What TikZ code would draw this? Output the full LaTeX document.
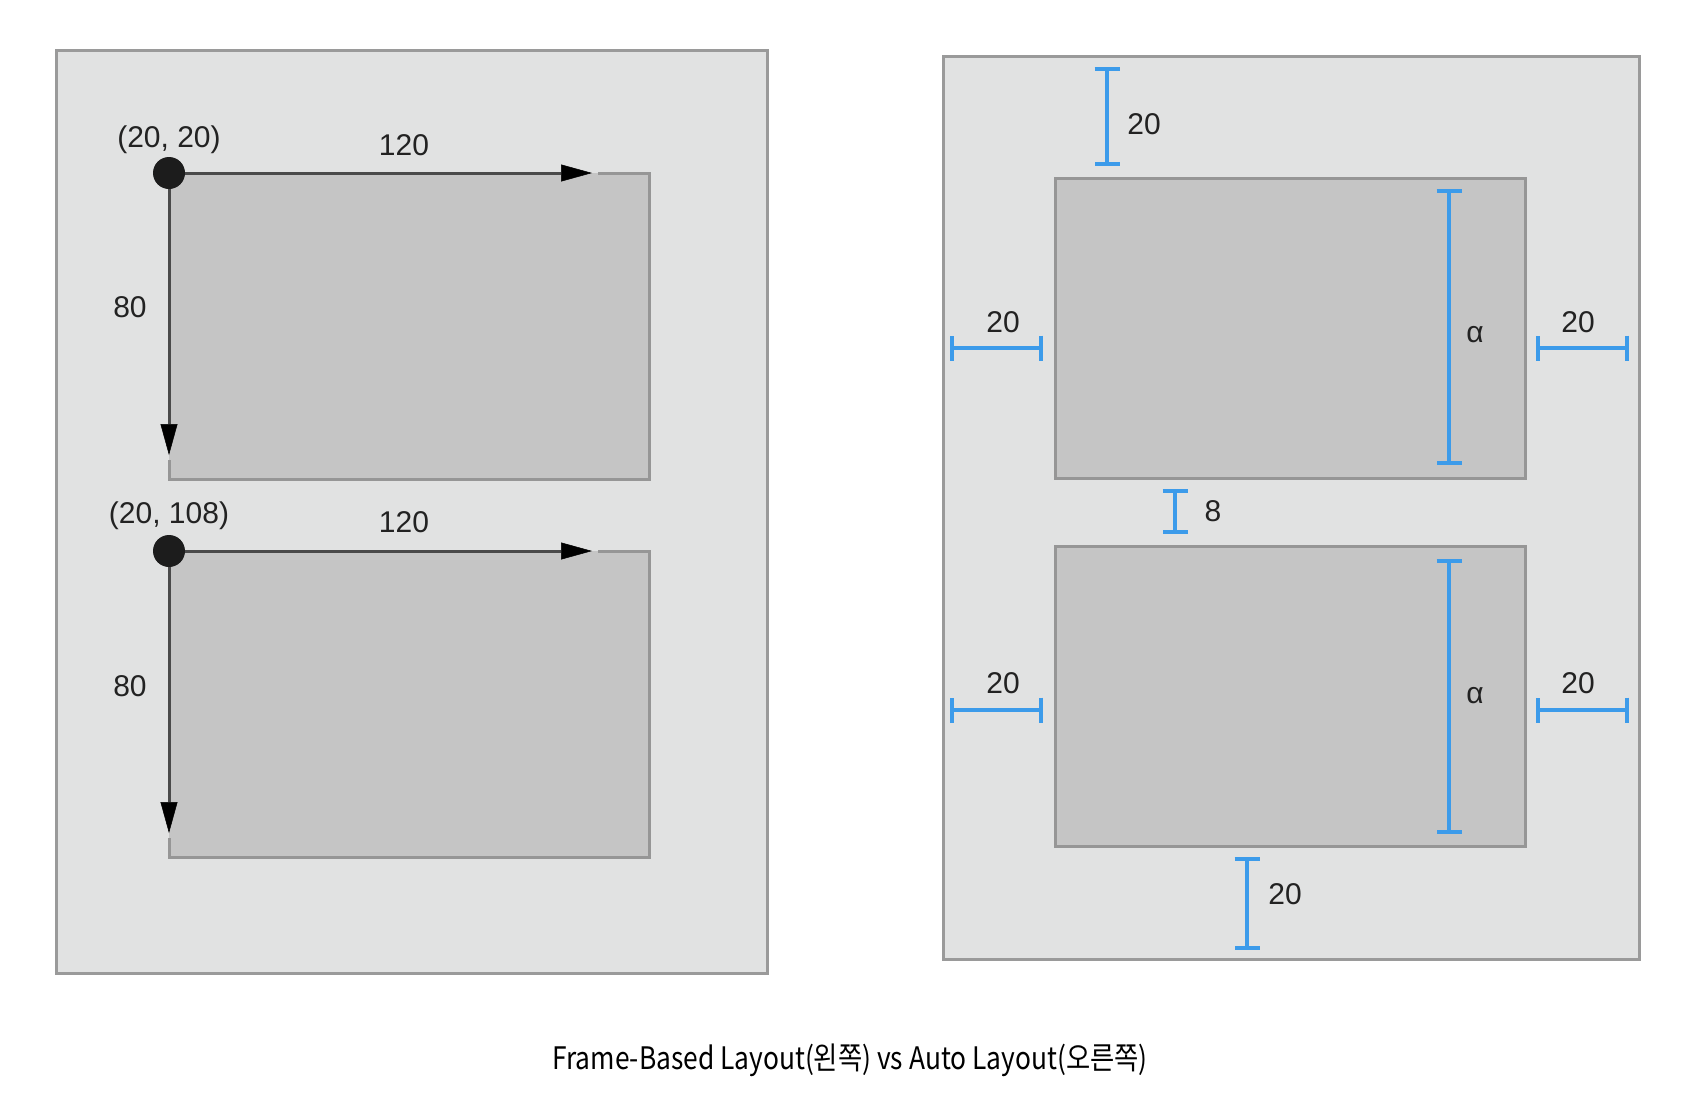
\documentclass[tikz,border=0pt]{standalone}
\usepackage{fontspec}
\setmainfont{Liberation Sans}
\newfontfamily\capfont[FakeStretch=0.85]{Noto Sans CJK KR}
\usetikzlibrary{arrows.meta,calc}
\definecolor{outerfill}{HTML}{E1E2E2}
\definecolor{outerline}{HTML}{9A9A9A}
\definecolor{innerfill}{HTML}{C5C5C5}
\definecolor{innerline}{HTML}{969696}
\definecolor{dimblue}{HTML}{3C9BEA}
\definecolor{arrowgray}{HTML}{4A4A4A}
\definecolor{dotblack}{HTML}{1C1C1C}
\definecolor{lbltext}{HTML}{222222}
\begin{document}
\begin{tikzpicture}[x=1pt,y=-1pt,
  outerbox/.style={fill=outerfill,draw=outerline,line width=3pt,inner sep=0pt,anchor=north west},
  innerfillbox/.style={fill=innerfill,inner sep=0pt,anchor=north west,minimum width=480pt,minimum height=306pt},
  innerbox/.style={fill=innerfill,draw=innerline,line width=3pt,inner sep=0pt,anchor=north west,minimum width=470pt,minimum height=300pt},
  edgeline/.style={draw=innerline,line width=3pt},
  lbl/.style={font=\fontsize{30}{36}\selectfont,text=lbltext,inner sep=0pt},
  framearrow/.style={draw=arrowgray,line width=3pt,-{Triangle[length=31pt,width=17pt,color=black,line width=0.5pt]}},
  dotnode/.style={circle,fill=dotblack,minimum size=32pt,inner sep=0pt},
  dimline/.style={draw=dimblue,line width=4pt,{Bar[width=25pt]}-{Bar[width=25pt]}},
  caption/.style={font=\capfont\fontsize{31}{38}\selectfont,text=black,inner sep=0pt}
]
\useasboundingbox (0,0) rectangle (1686,1114);

% ---------- Left panel: frame-based ----------
\node[outerbox,minimum width=711pt,minimum height=923pt] (lout) at (55,49) {};

\node[innerfillbox] (lr1) at (169,173) {};
\node[innerfillbox] (lr2) at (169,551) {};

\coordinate (lr1top) at (598,173);
\coordinate (lr1left) at (169,460);
\coordinate (lr2top) at (598,551);
\coordinate (lr2left) at (169,838);
\draw[edgeline] (lr1top) -- (lr1.north east) -- (lr1.south east) -- (lr1.south west) -- (lr1left);
\draw[edgeline] (lr2top) -- (lr2.north east) -- (lr2.south east) -- (lr2.south west) -- (lr2left);

\coordinate (h1tip) at (592,173);
\coordinate (v1tip) at (169,455);
\coordinate (h2tip) at (592,551);
\coordinate (v2tip) at (169,833);
\draw[framearrow] (lr1.north west) -- (h1tip);
\draw[framearrow] (lr1.north west) -- (v1tip);
\draw[framearrow] (lr2.north west) -- (h2tip);
\draw[framearrow] (lr2.north west) -- (v2tip);

\node[dotnode] (d1) at (lr1.north west) {};
\node[dotnode] (d2) at (lr2.north west) {};

\node[lbl] (p1) at (169,140) {(20, 20)};
\node[lbl] (w1) at (404,145) {120};
\node[lbl] (hh1) at (130,307) {80};
\node[lbl] (p2) at (169,516) {(20, 108)};
\node[lbl] (w2) at (404,522) {120};
\node[lbl] (hh2) at (130,686) {80};

% ---------- Right panel: auto layout ----------
\node[outerbox,minimum width=696pt,minimum height=903pt] (rout) at (942,55) {};
\node[innerbox] (rr1) at (1054,177) {};
\node[innerbox] (rr2) at (1054,545) {};

% top margin
\coordinate (ta) at (1107,67);
\coordinate (tb) at (1107,166);
\draw[dimline] (ta) -- (tb);
\node[lbl] at (1144,124) {20};

% left / right margins of first box
\coordinate (l1a) at (950,348);
\coordinate (l1b) at (1043,348);
\draw[dimline] (l1a) -- (l1b);
\node[lbl] at (1003,322) {20};
\coordinate (r1a) at (1536,348);
\coordinate (r1b) at (1629,348);
\draw[dimline] (r1a) -- (r1b);
\node[lbl] at (1578,322) {20};

% height of first box
\coordinate (a1a) at (1449,189);
\coordinate (a1b) at (1449,465);
\draw[dimline] (a1a) -- (a1b);
\node[lbl] at (1475,335) {α};

% spacing 8
\coordinate (sa) at (1175,489);
\coordinate (sb) at (1175,534);
\draw[dimline] (sa) -- (sb);
\node[lbl] at (1213,511) {8};

% left / right margins of second box
\coordinate (l2a) at (950,710);
\coordinate (l2b) at (1043,710);
\draw[dimline] (l2a) -- (l2b);
\node[lbl] at (1003,683) {20};
\coordinate (r2a) at (1536,710);
\coordinate (r2b) at (1629,710);
\draw[dimline] (r2a) -- (r2b);
\node[lbl] at (1578,683) {20};

% height of second box
\coordinate (a2a) at (1449,559);
\coordinate (a2b) at (1449,834);
\draw[dimline] (a2a) -- (a2b);
\node[lbl] at (1475,696) {α};

% bottom margin
\coordinate (ba) at (1247,857);
\coordinate (bb) at (1247,950);
\draw[dimline] (ba) -- (bb);
\node[lbl] at (1285,894) {20};

% ---------- Caption ----------
\node[caption] (cap) at (850,1060) {Frame-Based Layout(왼쪽) vs Auto Layout(오른쪽)};
\end{tikzpicture}
\end{document}
